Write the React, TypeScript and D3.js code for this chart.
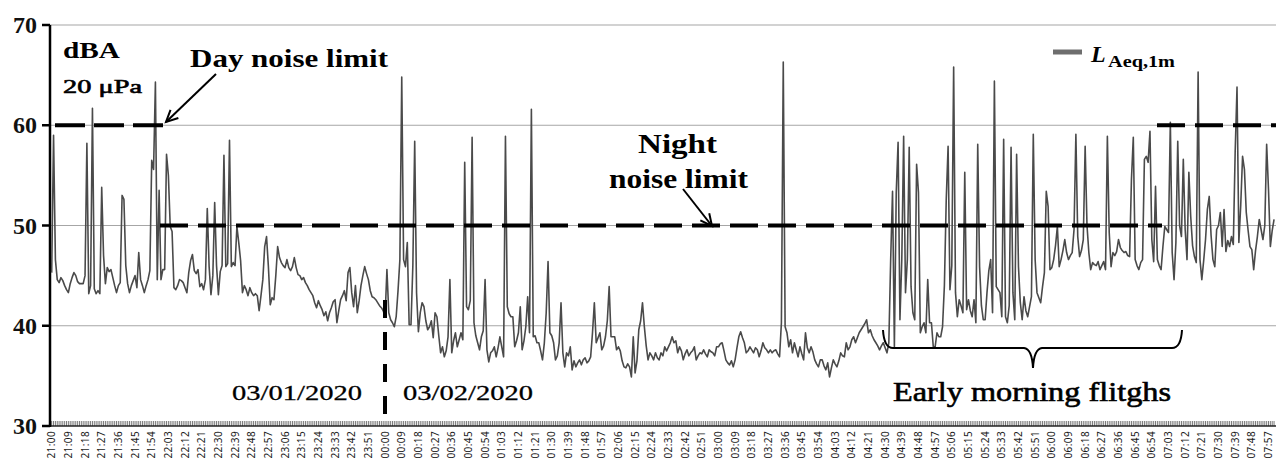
import React from "react";
import * as d3 from "d3";

// L_Aeq,1m values, one per minute, starting at 21:00 (03/01/2020)
const h21 = [45.3,59.0,46.6,44.6,44.3,44.8,44.5,44.0,43.6,43.3,44.2,44.8,45.3,45.0,44.4,44.2,44.2,44.2,45.0,58.2,43.2,44.0,61.7,43.7,43.2,43.5,43.2,53.8,47.0,44.2,45.8,45.4,45.6,44.8,44.0,43.3,44.0,44.3,53.0,52.6,46.0,44.2,43.3,44.0,44.5,45.0,43.8,47.3,44.6,44.0,43.3,44.0,44.6,45.5,56.5,55.6,64.3,44.6,53.5,44.6];
const h22 = [45.6,45.6,57.1,55.0,49.9,49.4,43.8,43.6,44.0,44.6,44.5,44.3,43.8,43.3,45.3,46.5,47.1,45.5,45.2,45.6,43.9,44.2,43.6,44.6,51.7,45.9,43.1,45.0,52.3,46.0,43.1,45.4,46.0,57.0,45.9,46.2,58.5,45.9,46.3,46.0,49.9,48.3,46.5,43.3,44.0,43.6,43.0,43.8,43.3,43.0,43.2,43.0,41.5,43.0,44.6,47.9,48.9,45.9,42.1,42.8];
const h23 = [42.6,45.0,47.9,46.8,46.3,46.0,45.8,46.6,45.8,45.5,45.9,46.8,45.8,45.1,45.0,44.6,44.8,44.3,44.0,43.6,43.3,43.0,42.3,41.8,42.5,42.0,41.6,41.0,41.4,40.5,41.3,41.8,42.4,42.6,40.3,41.5,42.6,43.0,43.5,42.5,45.3,45.8,43.3,41.9,44.0,41.3,42.5,44.0,45.0,45.9,45.2,44.6,43.5,42.9,42.8,42.6,42.3,42.0,41.8,41.5];
const h00 = [40.9,45.6,41.3,40.6,40.3,39.9,40.9,43.5,46.6,64.8,46.6,45.9,48.3,40.1,40.1,46.0,58.4,43.3,39.4,41.3,42.3,41.9,40.5,39.6,39.9,40.5,38.8,41.3,40.9,39.0,37.3,37.9,36.9,37.5,38.9,44.6,37.3,38.5,39.3,37.9,38.6,39.3,38.6,56.3,41.9,41.6,42.5,58.8,40.3,39.0,38.3,37.6,38.9,39.5,44.6,37.6,36.4,37.3,37.5,37.9];
const h01 = [36.9,37.8,38.9,37.9,36.9,58.9,41.9,41.2,40.9,40.9,37.9,38.5,39.3,41.9,37.6,38.5,39.9,42.9,39.3,61.6,38.9,39.0,38.3,38.3,37.5,36.6,38.3,41.3,46.4,39.3,39.0,38.3,36.6,37.0,38.3,42.3,37.3,35.9,37.3,37.0,37.9,35.6,36.5,35.9,36.3,36.6,36.1,36.6,36.8,36.3,36.5,36.9,39.3,42.3,38.3,38.8,39.3,37.6,38.0,38.9];
const h02 = [40.5,43.9,38.9,38.9,38.9,37.6,37.9,37.5,36.5,35.9,35.8,36.2,35.9,34.9,38.9,35.3,36.5,39.6,40.5,42.3,39.9,38.0,36.6,37.3,37.0,36.6,37.3,36.8,36.6,37.3,37.0,37.9,37.5,37.9,38.3,38.9,38.3,38.5,37.3,37.9,37.5,36.6,37.2,37.6,37.0,37.3,37.5,37.9,36.6,37.0,37.3,37.2,37.6,37.2,36.9,37.6,37.4,37.3,37.0,37.9];
const h03 = [37.9,38.2,38.3,37.5,36.6,36.3,36.1,36.5,35.9,36.6,37.8,38.9,39.4,38.8,38.3,37.3,37.5,37.9,37.6,37.3,37.8,37.6,36.9,37.5,38.3,37.8,37.6,37.3,37.6,37.3,37.5,37.6,37.2,36.9,40.3,66.3,39.9,39.3,37.9,38.6,37.3,38.3,37.6,36.9,37.9,37.2,36.6,39.3,37.8,37.3,37.9,37.4,36.6,36.2,35.9,36.6,36.6,36.0,35.6,36.3];
const h04 = [34.9,35.8,36.6,36.2,35.9,36.5,37.3,37.0,36.9,38.3,37.6,37.9,38.6,38.9,38.3,38.8,39.3,39.6,39.9,40.2,40.6,39.3,39.6,39.0,38.6,38.3,38.0,37.6,38.0,38.3,37.8,37.3,38.3,46.6,53.4,37.9,53.3,58.3,40.6,46.6,58.9,43.3,46.6,57.8,43.9,41.3,40.6,56.1,53.3,39.3,39.9,40.3,39.3,44.6,40.3,40.3,37.9,37.9,39.3,38.9];
const h05 = [38.9,39.9,44.0,52.6,57.9,43.6,46.0,65.8,43.3,40.9,42.6,42.0,41.3,55.3,41.6,42.6,41.5,40.9,42.6,40.3,58.1,45.9,42.0,40.6,40.6,43.3,45.5,46.6,41.3,64.4,43.9,43.6,43.3,40.9,58.6,40.9,40.3,42.0,57.8,43.3,40.6,57.1,45.9,42.3,40.6,42.9,41.5,40.9,41.9,42.9,59.1,46.6,43.3,42.8,42.3,43.9,45.3,53.4,51.9,45.6];
const h06 = [45.8,46.6,48.0,49.9,45.9,46.6,47.5,48.6,47.3,46.6,47.0,47.3,49.6,59.1,48.9,46.9,47.5,48.6,57.9,50.0,47.3,45.6,46.3,46.1,46.0,46.4,45.6,46.0,46.4,45.6,58.9,49.3,45.9,47.3,47.0,47.4,48.6,47.8,47.5,47.3,47.4,47.0,46.9,54.6,58.8,46.6,46.0,45.6,46.3,46.6,56.6,56.9,56.3,59.4,48.6,46.4,53.9,46.6,46.0,45.6];
const h07 = [47.9,49.9,49.6,49.3,60.3,47.3,44.6,48.3,58.4,50.0,48.9,56.6,49.6,46.6,55.3,50.9,48.0,46.9,46.3,65.3,46.6,44.6,46.5,48.6,51.6,52.9,49.0,46.6,45.9,49.6,50.0,51.3,47.9,51.6,47.4,48.5,47.9,48.9,48.1,57.3,63.8,48.3,52.0,56.9,55.6,51.3,49.5,47.9,47.6,45.6,47.5,48.9,50.6,49.6,48.6,50.0,58.1,53.6,47.9,49.5,50.6];

const series = [...h21, ...h22, ...h23, ...h00, ...h01, ...h02, ...h03, ...h04, ...h05, ...h06, ...h07];

const startTime = new Date(2020, 2, 1, 21, 0);
const yTicks = [30, 40, 50, 60, 70];
const gridValues = [40, 50, 60, 70];
const labelEvery = 9;
const lastLabelIndex = 657;
const dayLimit = 60;
const nightLimit = 50;

const W = 1276;
const H = 461;

const serif = "'Liberation Serif', 'Times New Roman', serif";

function arrowHead(x1: number, y1: number, x2: number, y2: number, len = 13, ang = 0.45) {
  const a = Math.atan2(y2 - y1, x2 - x1);
  const p1 = [x2 - len * Math.cos(a - ang), y2 - len * Math.sin(a - ang)];
  const p2 = [x2 - len * Math.cos(a + ang), y2 - len * Math.sin(a + ang)];
  return `M${p1[0]},${p1[1]} L${x2},${y2} L${p2[0]},${p2[1]}`;
}

export default function App() {
  const x = d3.scaleLinear().domain([0, 657]).range([51.7, 1268.5]);
  const y = d3.scaleLinear().domain([30, 70]).range([426, 25]);
  const fmt = d3.timeFormat("%H:%M");
  const line = d3
    .line<number>()
    .x((_, i) => x(i))
    .y((d) => y(d));

  const labelIdx = d3.range(0, lastLabelIndex + 1, labelEvery);
  const tickIdx = d3.range(0, series.length);

  const dayArrow = { x1: 216, y1: 74, x2: 166, y2: 122 };
  const nightArrow = { x1: 683, y1: 189, x2: 712, y2: 226 };

  return (
    <svg width={W} height={H} style={{ position: "absolute", left: 0, top: 0, background: "#fff" }}>
      {/* grid */}
      {gridValues.map((v) => (
        <line key={v} x1={50} x2={W} y1={y(v)} y2={y(v)} stroke="#a6a6a6" strokeWidth={1.2} />
      ))}
      {/* x minor ticks */}
      {tickIdx.map((i) => (
        <line key={i} x1={x(i)} x2={x(i)} y1={421} y2={426} stroke="#6a6a6a" strokeWidth={0.9} />
      ))}
      {/* x axis */}
      <line x1={50} x2={W} y1={426} y2={426} stroke="#222" strokeWidth={1.5} />
      {/* y axis */}
      <line x1={50} x2={50} y1={y(70)} y2={427} stroke="#000" strokeWidth={2.5} />
      {yTicks.map((v) => (
        <g key={v}>
          <line x1={42} x2={50} y1={y(v)} y2={y(v)} stroke="#000" strokeWidth={2.5} />
          <text x={37} y={y(v) + 8} textAnchor="end" fontFamily={serif} fontWeight="bold" fontSize={24} fill="#111">
            {v}
          </text>
        </g>
      ))}
      {/* x labels */}
      {labelIdx.map((i) => (
        <text
          key={i}
          transform={`translate(${x(i) + 3.6},431) rotate(-90)`}
          textAnchor="end"
          fontFamily="'Noto Sans', sans-serif"
          fontSize={10}
          letterSpacing={0.4}
          fill="#1a1a1a"
        >
          {fmt(d3.timeMinute.offset(startTime, i))}
        </text>
      ))}

      {/* data line */}
      <path d={line(series) || ""} fill="none" stroke="#4a4a4a" strokeWidth={1.6} strokeLinejoin="round" />

      {/* limits */}
      <line x1={55} x2={165} y1={y(dayLimit)} y2={y(dayLimit)} stroke="#000" strokeWidth={4} strokeDasharray="30 9" />
      <line x1={160} x2={1162} y1={y(nightLimit)} y2={y(nightLimit)} stroke="#000" strokeWidth={4} strokeDasharray="28 10" />
      <line x1={1157} x2={W} y1={y(dayLimit)} y2={y(dayLimit)} stroke="#000" strokeWidth={4} strokeDasharray="28 10" />

      {/* midnight divider */}
      <line x1={385} x2={385} y1={300} y2={416} stroke="#000" strokeWidth={4} strokeDasharray="18 14" />

      {/* annotations */}
      <text x={63} y={58} fontFamily={serif} fontWeight="bold" fontSize={23} textLength={57} lengthAdjust="spacingAndGlyphs">dBA</text>
      <text x={63} y={93} fontFamily={serif} fontSize={19} stroke="#000" strokeWidth={0.6} textLength={79} lengthAdjust="spacingAndGlyphs">20 μPa</text>
      <text x={190} y={67} fontFamily={serif} fontWeight="bold" fontSize={26} textLength={198} lengthAdjust="spacingAndGlyphs">Day noise limit</text>
      <line x1={dayArrow.x1} y1={dayArrow.y1} x2={dayArrow.x2} y2={dayArrow.y2} stroke="#000" strokeWidth={2} />
      <path d={arrowHead(dayArrow.x1, dayArrow.y1, dayArrow.x2, dayArrow.y2)} fill="none" stroke="#000" strokeWidth={2} />

      <text x={638} y={153} fontFamily={serif} fontWeight="bold" fontSize={27} textLength={79} lengthAdjust="spacingAndGlyphs">Night</text>
      <text x={609} y={188} fontFamily={serif} fontWeight="bold" fontSize={27} textLength={139} lengthAdjust="spacingAndGlyphs">noise limit</text>
      <line x1={nightArrow.x1} y1={nightArrow.y1} x2={nightArrow.x2} y2={nightArrow.y2} stroke="#000" strokeWidth={2} />
      <path d={arrowHead(nightArrow.x1, nightArrow.y1, nightArrow.x2, nightArrow.y2)} fill="none" stroke="#000" strokeWidth={2} />

      <text x={232} y={400} fontFamily={serif} fontSize={22} stroke="#000" strokeWidth={0.3} textLength={130} lengthAdjust="spacingAndGlyphs">03/01/2020</text>
      <text x={403} y={400} fontFamily={serif} fontSize={22} stroke="#000" strokeWidth={0.3} textLength={130} lengthAdjust="spacingAndGlyphs">03/02/2020</text>

      <path
        d="M883,330 Q884,348 893,348 L1024,348 Q1032,349 1033,368 Q1034,349 1042,348 L1172,348 Q1181,348 1182,330"
        fill="none"
        stroke="#000"
        strokeWidth={2}
      />
      <text x={893} y={401} fontFamily={serif} fontSize={27} stroke="#000" strokeWidth={0.6} textLength={278} lengthAdjust="spacingAndGlyphs">Early morning flitghs</text>

      {/* legend */}
      <line x1={1053} x2={1082} y1={52} y2={52} stroke="#6e6e6e" strokeWidth={5} />
      <text x={1091} y={62} fontFamily={serif} fontWeight="bold" fontStyle="italic" fontSize={24}>
        L
      </text>
      <text x={1108} y={67} fontFamily={serif} fontWeight="bold" fontSize={16} textLength={67} lengthAdjust="spacingAndGlyphs">Aeq,1m</text>
    </svg>
  );
}
